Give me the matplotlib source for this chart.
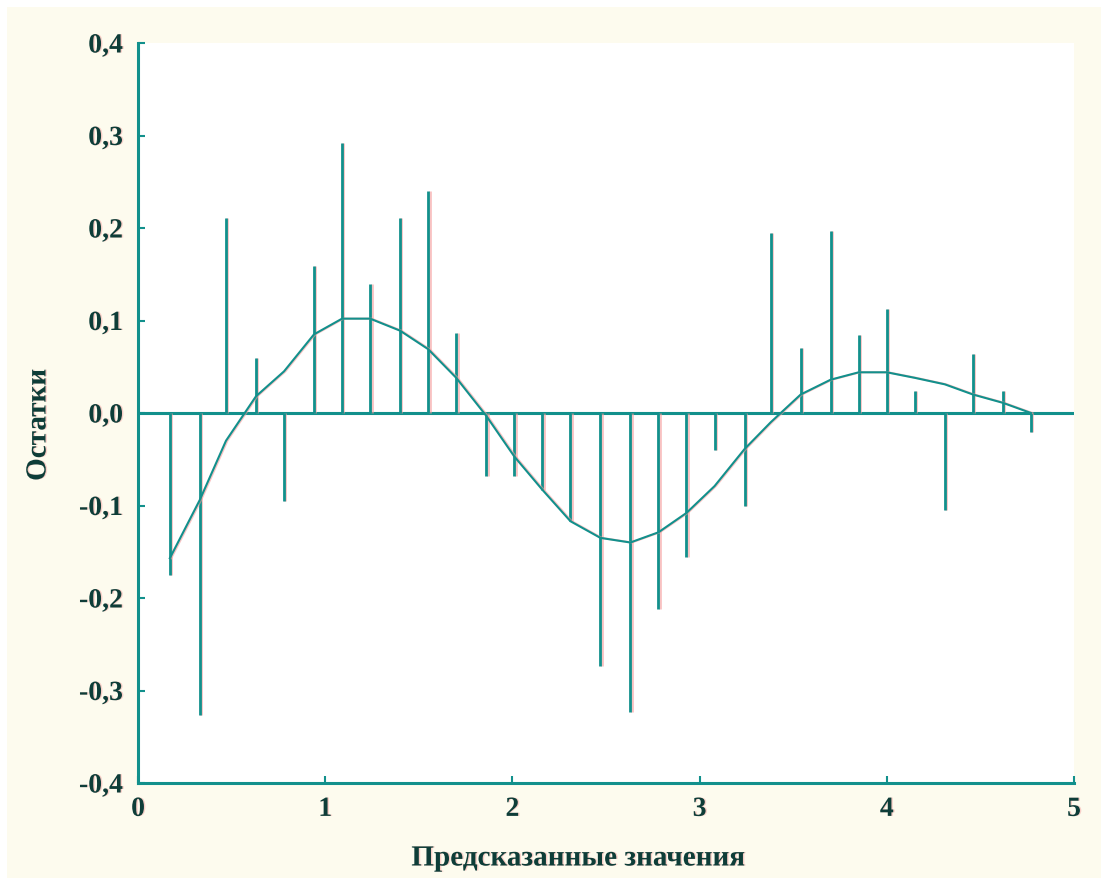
import matplotlib
matplotlib.use("Agg")
import matplotlib.pyplot as plt
import matplotlib.patheffects as pe
from matplotlib.patches import Rectangle

# predicted values and residuals of each observation
predicted = [0.17, 0.33, 0.47, 0.63, 0.78, 0.94, 1.09, 1.24, 1.40, 1.55, 1.70,
             1.86, 2.01, 2.16, 2.31, 2.47, 2.63, 2.78, 2.93, 3.08, 3.24, 3.38,
             3.54, 3.70, 3.85, 4.00, 4.15, 4.31, 4.46, 4.62, 4.77]
residuals = [-0.175, -0.327, 0.211, 0.060, -0.095, 0.159, 0.292, 0.140, 0.211,
             0.240, 0.087, -0.068, -0.068, -0.083, -0.117, -0.273, -0.323,
             -0.212, -0.156, -0.040, -0.101, 0.195, 0.070, 0.197, 0.084, 0.112,
             0.024, -0.105, 0.064, 0.024, -0.020]
# smoothed trend of the residuals
trend = [-0.157, -0.094, -0.030, 0.018, 0.045, 0.085, 0.102, 0.102, 0.089,
         0.069, 0.038, -0.003, -0.047, -0.083, -0.117, -0.135, -0.140, -0.129,
         -0.108, -0.079, -0.039, -0.010, 0.020, 0.036, 0.044, 0.044, 0.038,
         0.031, 0.020, 0.011, 0.000]

y_ticks = [-0.4, -0.3, -0.2, -0.1, 0.0, 0.1, 0.2, 0.3, 0.4]
x_ticks = [0, 1, 2, 3, 4, 5]

TEAL = "#12908c"
INK = "#0e3d38"
FRINGE = "#f49a9a"
CREAM = "#fdfbee"

line_fx = [pe.SimpleLineShadow(offset=(1.0, 0), shadow_color=FRINGE, alpha=0.6), pe.Normal()]
text_fx = [pe.withSimplePatchShadow(offset=(1.0, 0), shadow_rgbFace=FRINGE, alpha=0.45)]
font = {"family": ["Liberation Serif", "DejaVu Serif"], "weight": "bold"}

fig = plt.figure(figsize=(11.06, 8.83), dpi=100, facecolor="white")
fig.patches.append(Rectangle((7 / 1106, 5 / 883), 1094 / 1106, 871 / 883,
                             transform=fig.transFigure, facecolor=CREAM,
                             edgecolor="none", zorder=-10))

ax = fig.add_axes([138 / 1106, 100 / 883, 936 / 1106, 740 / 883])
ax.set_zorder(1)
ax.set_facecolor("white")
ax.set_xlim(0, 5)
ax.set_ylim(-0.4, 0.4)

ax.hlines(0, 0, 5, color=TEAL, lw=2.2, path_effects=line_fx, zorder=2)
for x, r in zip(predicted, residuals):
    ax.plot([x, x], [0, r], color=TEAL, lw=2.0, solid_capstyle="butt",
            path_effects=line_fx, zorder=3)
ax.plot(predicted, trend, color=TEAL, lw=1.5, path_effects=line_fx, zorder=4)

for side in ("top", "right"):
    ax.spines[side].set_visible(False)
for side in ("left", "bottom"):
    ax.spines[side].set_color(TEAL)
    ax.spines[side].set_linewidth(2.2)

ax.set_xticks(x_ticks)
ax.set_xticklabels([str(v) for v in x_ticks])
ax.set_yticks(y_ticks)
ax.set_yticklabels([f"{v:.1f}".replace(".", ",") for v in y_ticks])
ax.tick_params(direction="in", length=5, width=1.5, color=TEAL, labelcolor=INK)
ax.tick_params(axis="y", pad=11)
ax.tick_params(axis="x", pad=10)
for lbl in ax.get_xticklabels() + ax.get_yticklabels():
    lbl.set_fontproperties(font)
    lbl.set_fontsize(20)
    lbl.set_path_effects(text_fx)

fig.text(578 / 1106, 1 - 858 / 883, "Предсказанные значения", ha="center", va="center",
         fontsize=21, color=INK, path_effects=text_fx, **font)
fig.text(38 / 1106, 1 - 425 / 883, "Остатки", ha="center", va="center", rotation=90,
         fontsize=21, color=INK, path_effects=text_fx, **font)

fig.savefig("out.png", dpi=100, facecolor=fig.get_facecolor())
